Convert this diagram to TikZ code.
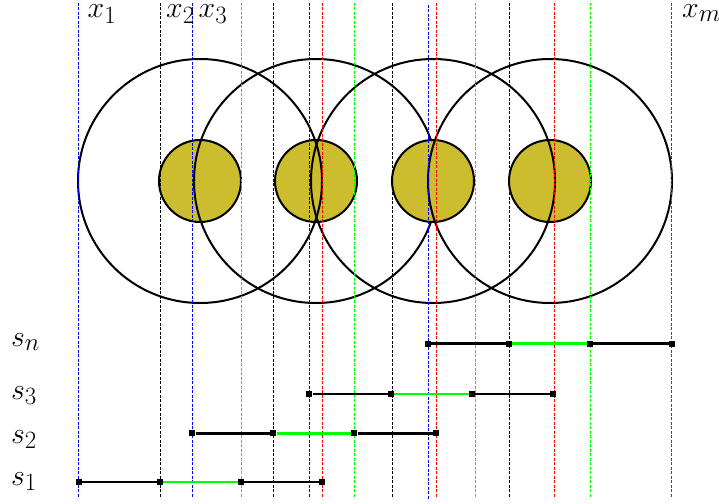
\documentclass[tikz,border=0pt]{standalone}
\definecolor{olivey}{RGB}{204,189,46}
\newcommand{\biglab}[1]{\scalebox{1.2}{\Huge$#1$}}
\begin{document}
\begin{tikzpicture}[x=1pt,y=-1pt,
  vline/.style={line width=1pt,dash pattern=on 3pt off 1.5pt},
  bigc/.style={line width=2pt},
  yc/.style={fill=olivey,draw=black,line width=2pt},
  seg/.style={line width=2.6pt},
  mk/.style={rectangle,fill=black,minimum size=6pt,inner sep=0pt},
  lab/.style={anchor=base west,inner sep=0pt}]
\useasboundingbox (0,0) rectangle (719,503);
% circles
\fill[white] (0,0) rectangle (719,503);
\draw[yc] (200,181) circle (41pt);
\draw[yc] (316,181) circle (41pt);
\draw[bigc] (200,181) circle (122pt);
\draw[bigc] (316,181) circle (122pt);
\draw[yc] (433,181) circle (41pt);
\draw[yc] (550,181) circle (41pt);
\draw[bigc] (433,181) circle (122pt);
\draw[bigc] (550,181) circle (122pt);
% vertical dashed lines
\foreach \xx/\cc/\ya/\yb [count=\i] in {78/blue/3/497,160/black/3/497,192.3/blue/3/497,241/green/3/497,
  273.7/black/3/497,309.3/blue/3/497,322/red/3/497,354.5/green/3/497,392/black/3/497,
  428.3/blue/5/500,436/red/3/497,475/green/3/497,509/black/3/497,554.5/red/3/497,
  590/green/3/497,671.7/red/3/497}{
  \coordinate (t\i) at (\xx,\ya);
  \coordinate (b\i) at (\xx,\yb);
  \draw[vline,\cc] (t\i) -- (b\i);
}
% segments
\foreach \a/\b/\c/\d/\y/\n in {78.5/160/241/322/482/1,192.3/273.3/354.3/436/433.3/2,
  309.3/390.7/472/553/394/3,428/509/590/671.7/343.7/n}{
  \node[mk] (s\n a) at (\a,\y) {};
  \node[mk] (s\n b) at (\b,\y) {};
  \node[mk] (s\n c) at (\c,\y) {};
  \node[mk] (s\n d) at (\d,\y) {};
  \draw[seg] (s\n a) -- (s\n b);
  \draw[seg,green] (s\n b) -- (s\n c);
  \draw[seg] (s\n c) -- (s\n d);
}
% labels
\node[lab] (lx1) at (87.5,17.5) {\biglab{x_1}};
\node[lab] (lx2) at (166,17.5) {\biglab{x_2}};
\node[lab] (lx3) at (198.5,17.5) {\biglab{x_3}};
\node[lab] (lxm) at (682,17.5) {\biglab{x_m}};
\node[lab] (lsn) at (11,346) {\biglab{s_n}};
\node[lab] (ls3) at (11,399) {\biglab{s_3}};
\node[lab] (ls2) at (11,443) {\biglab{s_2}};
\node[lab] (ls1) at (11,485) {\biglab{s_1}};
\end{tikzpicture}
\end{document}
